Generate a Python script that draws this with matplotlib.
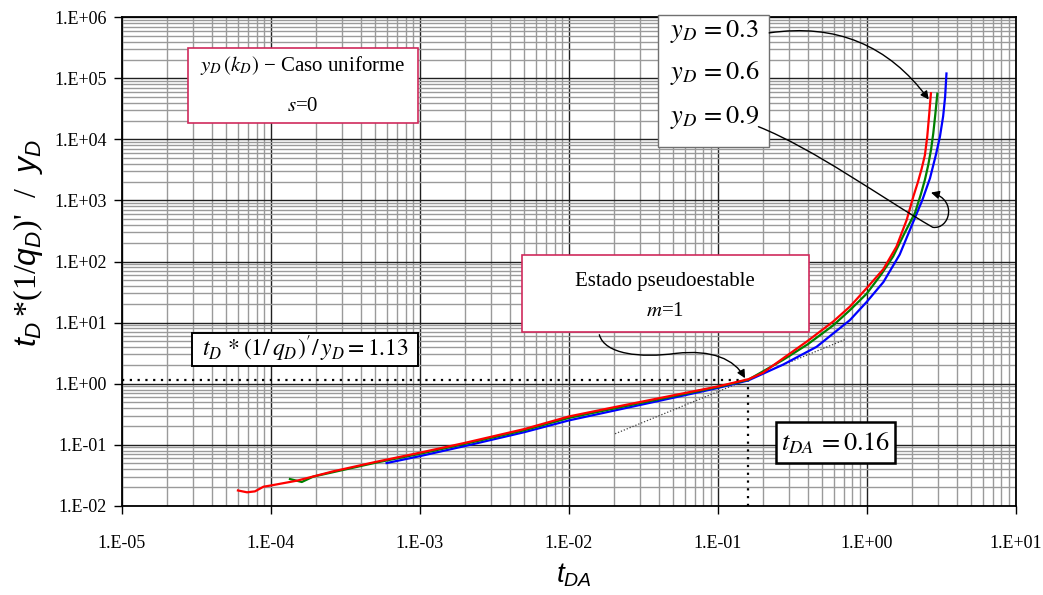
import numpy as np
import matplotlib
matplotlib.use("Agg")
import matplotlib.pyplot as plt
from matplotlib.patches import Rectangle, FancyArrowPatch
from matplotlib.path import Path
from matplotlib.ticker import FuncFormatter, FixedLocator, LogLocator, NullFormatter

plt.rcParams['font.family'] = ['Liberation Serif', 'DejaVu Serif']
plt.rcParams['mathtext.fontset'] = 'custom'
plt.rcParams['mathtext.rm'] = 'Liberation Sans'
plt.rcParams['mathtext.it'] = 'Liberation Sans:italic'
plt.rcParams['mathtext.bf'] = 'Liberation Sans:bold'

# y_D = 0.3
tda_03 = [6.0e-5, 6.9e-5, 7.8e-5, 8.9e-5, 1.0e-4, 1.5e-4, 2.6e-4, 5.0e-4, 1.0e-3, 2.0e-3,
          5.0e-3, 1.0e-2, 2.0e-2, 5.56e-2, 0.1, 0.16, 0.2, 0.274, 0.4, 0.594, 0.77, 1.0,
          1.29, 1.58, 1.85, 2.05, 2.2, 2.33, 2.45, 2.54, 2.62, 2.69]
der_03 = [0.0178, 0.0166, 0.0172, 0.0205, 0.0215, 0.0258, 0.0365, 0.052, 0.074, 0.107,
          0.18, 0.29, 0.41, 0.676, 0.90, 1.18, 1.5, 2.6, 5.0, 10.4, 18.3, 37.0,
          75.0, 176.0, 481.0, 1160.0, 2000.0, 3300.0, 5500.0, 1.1e4, 2.6e4, 5.7e4]

# y_D = 0.6
tda_06 = [1.34e-4, 1.61e-4, 1.92e-4, 5.0e-4, 1.0e-3, 2.0e-3, 5.0e-3, 1.0e-2, 5.56e-2, 0.1,
          0.16, 0.274, 0.4, 0.594, 0.77, 1.0, 1.25, 1.5, 1.8, 2.1, 2.3, 2.45, 2.58, 2.7,
          2.79, 2.88, 2.97]
der_06 = [0.0274, 0.0245, 0.030, 0.0505, 0.071, 0.103, 0.172, 0.275, 0.655, 0.88,
          1.16, 2.45, 4.4, 9.0, 16.0, 30.0, 62.0, 121.0, 300.0, 620.0, 1250.0, 2170.0,
          3800.0, 7000.0, 1.26e4, 2.6e4, 5.6e4]

# y_D = 0.9
tda_09 = [5.97e-4, 1.0e-3, 2.0e-3, 5.0e-3, 1.0e-2, 5.56e-2, 0.1, 0.16, 0.274, 0.459,
          0.77, 1.0, 1.29, 1.66, 2.05, 2.35, 2.65, 2.9, 3.09, 3.25, 3.35, 3.42]
der_09 = [0.050, 0.065, 0.095, 0.160, 0.25, 0.62, 0.85, 1.13, 2.05, 4.0,
          11.0, 22.0, 46.0, 130.0, 450.0, 1000.0, 2300.0, 5500.0, 1.1e4, 2.4e4,
          5.0e4, 1.2e5]

t_pss = 0.16
d_pss = 1.13
slope_x = [0.0204, 0.72]
slope_c = 7.4

x_ticks = [1e-5, 1e-4, 1e-3, 1e-2, 1e-1, 1e0, 1e1]
y_ticks = [1e-2, 1e-1, 1e0, 1e1, 1e2, 1e3, 1e4, 1e5, 1e6]

fig = plt.figure(figsize=(10.43, 5.95), dpi=100)
ax = fig.add_axes([0.117, 0.150, 0.857, 0.821])

ax.set_xscale('log')
ax.set_yscale('log')
ax.set_xlim(x_ticks[0], x_ticks[-1])
ax.set_ylim(y_ticks[0], y_ticks[-1])

ax.xaxis.set_major_locator(FixedLocator(x_ticks))
ax.yaxis.set_major_locator(FixedLocator(y_ticks))
ax.xaxis.set_minor_locator(LogLocator(base=10, subs=np.arange(2, 10), numticks=20))
ax.yaxis.set_minor_locator(LogLocator(base=10, subs=np.arange(2, 10), numticks=20))
ax.xaxis.set_minor_formatter(NullFormatter())
ax.yaxis.set_minor_formatter(NullFormatter())

fmt = FuncFormatter(lambda v, p: "1.E%+03d" % int(round(np.log10(v))))
ax.xaxis.set_major_formatter(fmt)
ax.yaxis.set_major_formatter(fmt)

ax.grid(True, which='minor', color='#9a9a9a', lw=1.0)
ax.grid(True, which='major', color='#202020', lw=1.0)
ax.set_axisbelow(True)
ax.tick_params(which='minor', length=0)
ax.tick_params(axis='x', which='major', length=6, width=1, pad=15, labelsize=13)
ax.tick_params(axis='y', which='major', length=6, width=1, pad=5, labelsize=13)
for sp in ax.spines.values():
    sp.set_linewidth(1.3)

ax.plot(tda_09, der_09, color='#0000ff', lw=1.6, zorder=3)
ax.plot(tda_06, der_06, color='#008000', lw=1.6, zorder=4)
ax.plot(tda_03, der_03, color='#ff0000', lw=1.6, zorder=5)

# pseudo-steady reference lines
ax.plot([x_ticks[0], t_pss], [d_pss, d_pss], color='black', lw=1.6, ls=(0, (1, 2.5)), zorder=2)
ax.plot([t_pss, t_pss], [y_ticks[0], d_pss], color='black', lw=1.6, ls=(0, (1, 2.5)), zorder=2)
sx = np.array(slope_x)
ax.plot(sx, slope_c * sx, color='#404040', lw=0.9, ls=(0, (1, 1.5)), zorder=2)

ax.set_xlabel('$t_{DA}$', fontsize=20)
ax.xaxis.set_label_coords(0.506, -0.115)
ax.set_ylabel("$t_D\\,$*(1/$q_D$)'  /  $y_D$", fontsize=23)
ax.yaxis.set_label_coords(-0.086, 0.538)


def box(x0, y0, x1, y1, ec, lw=1.2):
    ax.add_patch(Rectangle((x0, y0), x1 - x0, y1 - y0, transform=ax.transAxes,
                           facecolor='white', edgecolor=ec, lw=lw, zorder=6, clip_on=False))


def label(x, y, s, size, ha='center'):
    ax.text(x, y, s, transform=ax.transAxes, fontsize=size, ha=ha, va='center',
            math_fontfamily='stix', zorder=7)


crimson = '#d02a5c'

box(0.0738, 0.783, 0.331, 0.938, crimson)
label(0.2025, 0.901, '$y_D\\,(k_D)$ \u2212 Caso uniforme', 15)
label(0.2025, 0.817, '$s$=0', 15)

box(0.5996, 0.735, 0.7237, 1.005, '#707070', lw=1.0)
label(0.6125, 0.9705, '$y_D\\, = 0.3$', 19, ha='left')
label(0.6125, 0.8852, '$y_D\\, = 0.6$', 19, ha='left')
label(0.6125, 0.7958, '$y_D\\, = 0.9$', 19, ha='left')

box(0.4471, 0.3554, 0.7683, 0.5136, crimson)
label(0.6077, 0.4589, 'Estado pseudoestable', 15)
label(0.6077, 0.3975, '$m$=1', 15)

box(0.0780, 0.2865, 0.3315, 0.354, 'black', lw=1.4)
label(0.2048, 0.322, "$t_D\\,*(1/\\,q_D)'/\\,y_D = 1.13$", 17)

box(0.7315, 0.0874, 0.8647, 0.1705, 'black', lw=1.8)
label(0.798, 0.128, '$t_{DA}\\, = 0.16$', 19)

# leader arrows
ax.annotate('', xy=(2.6, 4.5e4), xycoords='data', xytext=(0.724, 0.968),
            textcoords='axes fraction',
            arrowprops=dict(arrowstyle='-|>', color='black', lw=1.0, mutation_scale=12,
                            shrinkA=0, shrinkB=0, connectionstyle='arc3,rad=-0.3'),
            zorder=8)

loop = Path([(0.712, 0.776), (0.775, 0.73), (0.85, 0.63), (0.907, 0.570),
             (0.926, 0.565), (0.935, 0.626), (0.905, 0.641)],
            [Path.MOVETO, Path.CURVE4, Path.CURVE4, Path.CURVE4,
             Path.CURVE4, Path.CURVE4, Path.CURVE4])
ax.add_patch(FancyArrowPatch(path=loop, arrowstyle='-|>', mutation_scale=12, lw=1.0,
                             color='black', transform=ax.transAxes, zorder=8,
                             clip_on=False))

wave = Path([(0.534, 0.350), (0.540, 0.31), (0.58, 0.302), (0.62, 0.312),
             (0.66, 0.32), (0.685, 0.30), (0.697, 0.261)],
            [Path.MOVETO, Path.CURVE4, Path.CURVE4, Path.CURVE4,
             Path.CURVE4, Path.CURVE4, Path.CURVE4])
ax.add_patch(FancyArrowPatch(path=wave, arrowstyle='-|>', mutation_scale=12, lw=1.0,
                             color='black', transform=ax.transAxes, zorder=8,
                             clip_on=False))

fig.savefig('out.png', dpi=100, facecolor='white')
